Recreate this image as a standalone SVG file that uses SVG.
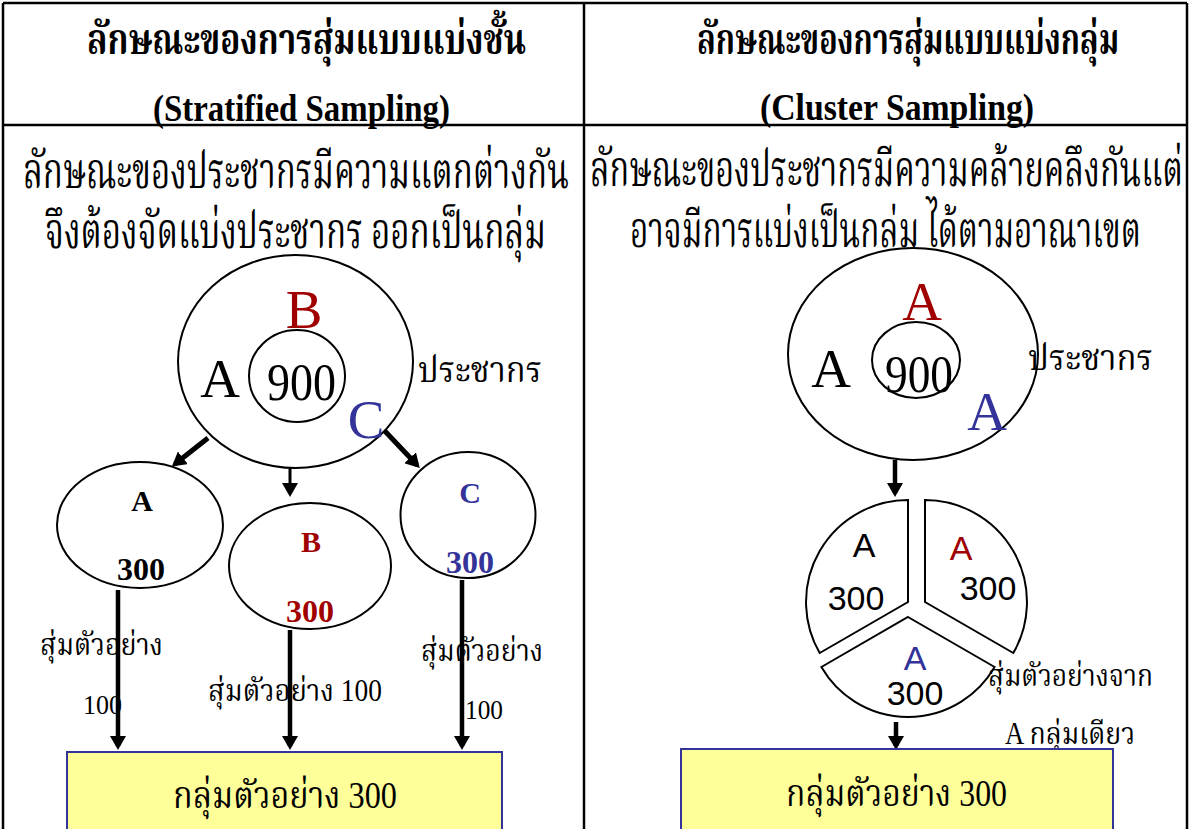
<svg xmlns="http://www.w3.org/2000/svg" width="1190" height="829" viewBox="0 0 1190 829">
<defs>
<style>
.frame{stroke:#000;stroke-width:2.5;fill:none}
.ell{fill:#fff;stroke:#000;stroke-width:2}
.th{font-family:"Liberation Serif","Noto Serif Thai","Noto Sans Thai",serif;fill:#000}
.thh{font-family:"Liberation Serif","Noto Serif Thai","Noto Sans Thai",serif;font-weight:bold;font-size:42px;fill:#000}
.en{font-family:"Liberation Serif",serif;fill:#000}
.enb{font-family:"Liberation Serif",serif;font-weight:bold}
.sans{font-family:"Liberation Sans",Arial,sans-serif;font-size:34px}
.red{fill:#A00000}
.blue{fill:#333399}
.blk{fill:#000}
.body{font-size:50px}
.lab{font-size:31px}
.conn{stroke:#000;fill:none}
.box{fill:#FFFF99;stroke:#333399;stroke-width:2}
</style>
<marker id="ah" viewBox="0 0 14 16" refX="10" refY="8" markerWidth="14" markerHeight="16" markerUnits="userSpaceOnUse" orient="auto">
<path d="M0,0 L14,8 L0,16 Z" fill="#000"/>
</marker>
</defs>
<rect width="1190" height="829" fill="#fff"/>
<g id="table">
<line class="frame" x1="3" y1="3" x2="1187" y2="3"/>
<line class="frame" x1="3" y1="3" x2="3" y2="829"/>
<line class="frame" x1="1187" y1="3" x2="1187" y2="829"/>
<line class="frame" x1="584" y1="3" x2="584" y2="829"/>
<line class="frame" x1="3" y1="125" x2="1187" y2="125"/>
</g>
<g id="header-left">
<text class="thh" x="87" y="54" textLength="439" lengthAdjust="spacingAndGlyphs">ลักษณะของการสุ่มแบบแบ่งชั้น</text>
<text class="enb" x="153" y="121" font-size="37" textLength="297" lengthAdjust="spacingAndGlyphs">(Stratified Sampling)</text>
</g>
<g id="header-right">
<text class="thh" x="697" y="54" textLength="422" lengthAdjust="spacingAndGlyphs">ลักษณะของการสุ่มแบบแบ่งกลุ่ม</text>
<text class="enb" x="760" y="120" font-size="37" textLength="274" lengthAdjust="spacingAndGlyphs">(Cluster Sampling)</text>
</g>
<g id="desc-left">
<text class="th body" x="23" y="188" textLength="546" lengthAdjust="spacingAndGlyphs">ลักษณะของประชากรมีความแตกต่างกัน</text>
<text class="th body" x="45" y="248" textLength="501" lengthAdjust="spacingAndGlyphs">จึงต้องจัดแบ่งประชากร ออกเป็นกลุ่ม</text>
</g>
<g id="desc-right">
<text class="th body" x="590" y="186" textLength="593" lengthAdjust="spacingAndGlyphs">ลักษณะของประชากรมีความคล้ายคลึงกันแต่</text>
<text class="th body" x="630" y="247" textLength="511" lengthAdjust="spacingAndGlyphs">อาจมีการแบ่งเป็นกลุ่ม ได้ตามอาณาเขต</text>
</g>
<g id="connectors">
<line class="conn" stroke-width="5" x1="208" y1="438" x2="175" y2="464" marker-end="url(#ah)"/>
<line class="conn" stroke-width="3" x1="290" y1="468" x2="290" y2="493" marker-end="url(#ah)"/>
<line class="conn" stroke-width="5" x1="382" y1="428" x2="417" y2="465" marker-end="url(#ah)"/>
<line class="conn" stroke-width="4.5" x1="118" y1="590" x2="118" y2="746" marker-end="url(#ah)"/>
<line class="conn" stroke-width="4.5" x1="290" y1="630" x2="290" y2="746" marker-end="url(#ah)"/>
<line class="conn" stroke-width="4.5" x1="462" y1="580" x2="462" y2="746" marker-end="url(#ah)"/>
<line class="conn" stroke-width="4.5" x1="895" y1="460" x2="895" y2="493" marker-end="url(#ah)"/>
<line class="conn" stroke-width="4.5" x1="896" y1="722" x2="896" y2="746" marker-end="url(#ah)"/>
</g>
<g id="population-left">
<ellipse class="ell" cx="295.5" cy="361.5" rx="117.5" ry="106.5"/>
<ellipse class="ell" cx="297" cy="376" rx="48" ry="46"/>
<text class="en red" x="304" y="328" font-size="55" text-anchor="middle">B</text>
<text class="en" x="220" y="397" font-size="55" text-anchor="middle">A</text>
<text class="en" x="267" y="400" font-size="52" textLength="69" lengthAdjust="spacingAndGlyphs">900</text>
<text class="en blue" x="366" y="438" font-size="55" text-anchor="middle">C</text>
<text class="th" x="418" y="382" font-size="36" textLength="124" lengthAdjust="spacingAndGlyphs">ประชากร</text>
</g>
<g id="stratum-a">
<ellipse class="ell" cx="140" cy="525" rx="83" ry="63"/>
<text class="enb blk" x="142" y="511" font-size="30" text-anchor="middle">A</text>
<text class="enb blk" x="141" y="580" font-size="32" text-anchor="middle">300</text>
</g>
<g id="stratum-b">
<ellipse class="ell" cx="310" cy="566" rx="81" ry="63"/>
<text class="enb red" x="311" y="552" font-size="30" text-anchor="middle">B</text>
<text class="enb red" x="310" y="622" font-size="32" text-anchor="middle">300</text>
</g>
<g id="stratum-c">
<ellipse class="ell" cx="468" cy="515" rx="67.5" ry="63"/>
<text class="enb blue" x="470" y="503" font-size="30" text-anchor="middle">C</text>
<text class="enb blue" x="470" y="573" font-size="32" text-anchor="middle">300</text>
</g>
<g id="labels-left">
<text class="th lab" x="40" y="655" textLength="123" lengthAdjust="spacingAndGlyphs">สุ่มตัวอย่าง</text>
<text class="en" x="83" y="714" font-size="28" textLength="39" lengthAdjust="spacingAndGlyphs">100</text>
<text class="th lab" x="208" y="701" textLength="174" lengthAdjust="spacingAndGlyphs">สุ่มตัวอย่าง 100</text>
<text class="th lab" x="421" y="661" textLength="122" lengthAdjust="spacingAndGlyphs">สุ่มตัวอย่าง</text>
<text class="en" x="465" y="719" font-size="28" textLength="38" lengthAdjust="spacingAndGlyphs">100</text>
</g>
<g id="sample-left">
<rect class="box" x="67" y="752" width="435" height="90"/>
<text class="th" x="173" y="808" font-size="38" textLength="224" lengthAdjust="spacingAndGlyphs">กลุ่มตัวอย่าง 300</text>
</g>
<g id="population-right">
<ellipse class="ell" cx="913" cy="354" rx="125" ry="106"/>
<ellipse class="ell" cx="916" cy="360" rx="44" ry="38"/>
<text class="en red" x="922" y="320" font-size="55" text-anchor="middle">A</text>
<text class="en" x="831" y="387" font-size="55" text-anchor="middle">A</text>
<text class="en" x="885" y="392" font-size="52" textLength="68" lengthAdjust="spacingAndGlyphs">900</text>
<text class="en blue" x="987" y="430" font-size="55" text-anchor="middle">A</text>
<text class="th" x="1028" y="370" font-size="36" textLength="125" lengthAdjust="spacingAndGlyphs">ประชากร</text>
</g>
<g id="cluster-1">
<path class="ell" d="M908,602 L908,500 A102,102 0 0 0 819.7,653 Z"/>
<text class="sans blk" x="864" y="557" font-size="32" text-anchor="middle">A</text>
<text class="sans blk" x="856" y="610" text-anchor="middle">300</text>
</g>
<g id="cluster-2">
<path class="ell" d="M925,602 L925,500 A102,102 0 0 1 1013.3,653 Z"/>
<text class="sans red" x="961" y="560" font-size="32" text-anchor="middle">A</text>
<text class="sans blk" x="988" y="600" text-anchor="middle">300</text>
</g>
<g id="cluster-3">
<path class="ell" d="M908,617 L994.6,667 A100,100 0 0 1 821.4,667 Z"/>
<text class="sans blue" x="915" y="670" font-size="32" text-anchor="middle">A</text>
<text class="sans blk" x="915" y="705" text-anchor="middle">300</text>
</g>
<g id="labels-right">
<text class="th lab" x="988" y="686" textLength="165" lengthAdjust="spacingAndGlyphs">สุ่มตัวอย่างจาก</text>
<text class="th lab" x="1005" y="744" textLength="130" lengthAdjust="spacingAndGlyphs">A กลุ่มเดียว</text>
</g>
<g id="sample-right">
<rect class="box" x="681" y="749" width="432" height="90"/>
<text class="th" x="786" y="806" font-size="38" textLength="221" lengthAdjust="spacingAndGlyphs">กลุ่มตัวอย่าง 300</text>
</g>
</svg>
